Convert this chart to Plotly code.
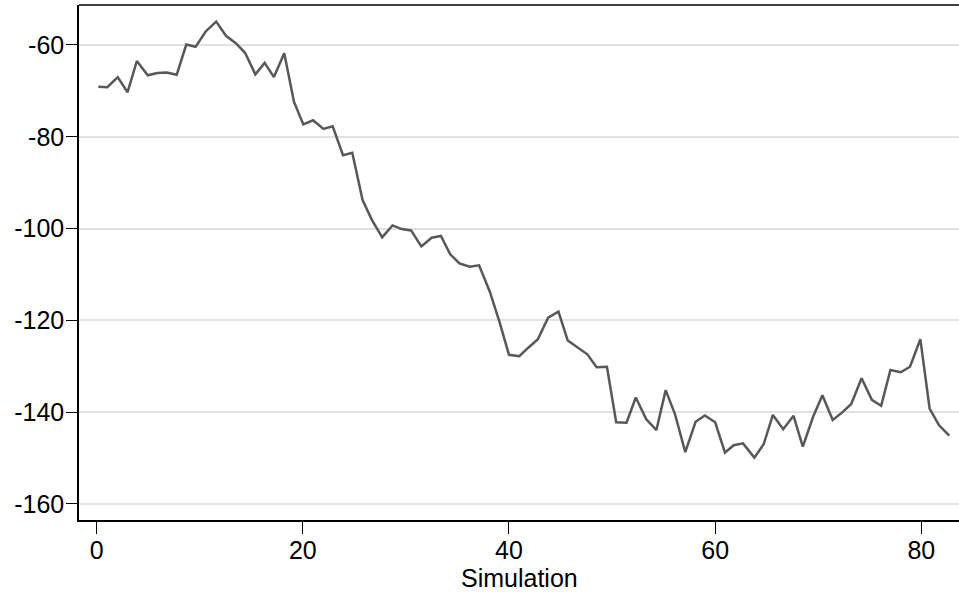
import plotly.graph_objects as go

# Simulation index (x) and simulated value (y) for each step
simulation = [
    0.17, 1.04, 2.05, 3.0, 3.9, 4.96, 5.9, 6.8, 7.77, 8.7,
    9.6, 10.6, 11.6, 12.55, 13.5, 14.4, 15.4, 16.3, 17.2, 18.2,
    19.15, 20.05, 21.0, 22.0, 22.9, 23.9, 24.8, 25.8, 26.7, 27.7,
    28.7, 29.6, 30.5, 31.5, 32.5, 33.4, 34.3, 35.2, 36.2, 37.1,
    38.15, 39.1, 40.0, 41.0, 41.9, 42.8, 43.8, 44.8, 45.7, 46.7,
    47.6, 48.5, 49.5, 50.4, 51.4, 52.3, 53.3, 54.3, 55.2, 56.1,
    57.1, 58.1, 59.0, 60.0, 60.95, 61.8, 62.7, 63.8, 64.7, 65.6,
    66.6, 67.6, 68.5, 69.5, 70.4, 71.4, 72.3, 73.2, 74.2, 75.2,
    76.1, 77.0, 78.0, 78.9, 79.9, 80.8, 81.7, 82.7,
]
value = [
    -69.1, -69.2, -67.0, -70.3, -63.5, -66.6, -66.1, -66.0, -66.5, -59.9,
    -60.4, -57.0, -54.9, -58.0, -59.6, -61.7, -66.4, -63.9, -67.0, -61.8,
    -72.4, -77.3, -76.4, -78.3, -77.7, -84.0, -83.5, -93.8, -98.1, -101.9,
    -99.3, -100.1, -100.4, -103.9, -102.0, -101.6, -105.6, -107.6, -108.3, -108.0,
    -113.8, -120.5, -127.5, -127.8, -125.9, -124.1, -119.4, -118.1, -124.4, -125.9,
    -127.4, -130.2, -130.1, -142.2, -142.3, -136.8, -141.5, -143.9, -135.2, -140.4,
    -148.7, -142.1, -140.7, -142.2, -148.8, -147.2, -146.8, -149.9, -147.0, -140.6,
    -143.7, -140.8, -147.5, -141.0, -136.3, -141.7, -140.1, -138.2, -132.6, -137.3,
    -138.6, -130.8, -131.3, -130.1, -124.1, -139.2, -142.8, -145.1,
]

x_ticks = [0, 20, 40, 60, 80]
y_ticks = [-60, -80, -100, -120, -140, -160]
x_title = "Simulation"

FONT = "Liberation Sans, Arial, Helvetica, sans-serif"

fig = go.Figure(
    go.Scatter(
        x=simulation,
        y=value,
        mode="lines",
        line=dict(color="rgb(88,88,88)", width=2.5),
        hoverinfo="x+y",
        showlegend=False,
    )
)

fig.update_layout(
    width=959,
    height=595,
    margin=dict(l=79, r=0, t=5, b=75),
    paper_bgcolor="white",
    plot_bgcolor="white",
    font=dict(family=FONT, size=25, color="black"),
)

fig.update_xaxes(
    range=[-1.707, 83.65],
    tickvals=x_ticks,
    ticktext=[str(v) for v in x_ticks],
    ticks="outside",
    ticklen=12,
    tickwidth=1.3,
    tickcolor="black",
    ticklabelstandoff=-5,
    showline=True,
    linecolor="black",
    linewidth=1.5,
    mirror=False,
    showgrid=False,
    zeroline=False,
)

fig.update_yaxes(
    range=[-163.49, -51.29],
    tickvals=y_ticks,
    ticktext=[str(v) for v in y_ticks],
    ticks="outside",
    ticklen=11,
    tickwidth=1.3,
    tickcolor="black",
    ticklabelstandoff=-3,
    showline=True,
    linecolor="black",
    linewidth=1.5,
    showgrid=True,
    gridcolor="rgb(226,226,226)",
    gridwidth=2,
    zeroline=False,
)

# x-axis title placed just under the tick labels
fig.add_annotation(
    text=x_title, xref="paper", yref="paper",
    x=0.5, y=-0.113, xanchor="center", yanchor="middle",
    showarrow=False, font=dict(size=25),
)

# top border of the plot region
fig.add_shape(
    type="line", xref="paper", yref="paper",
    x0=0, x1=1, y0=1, y1=1,
    line=dict(color="black", width=1.5),
)

fig.write_html("out.html")
